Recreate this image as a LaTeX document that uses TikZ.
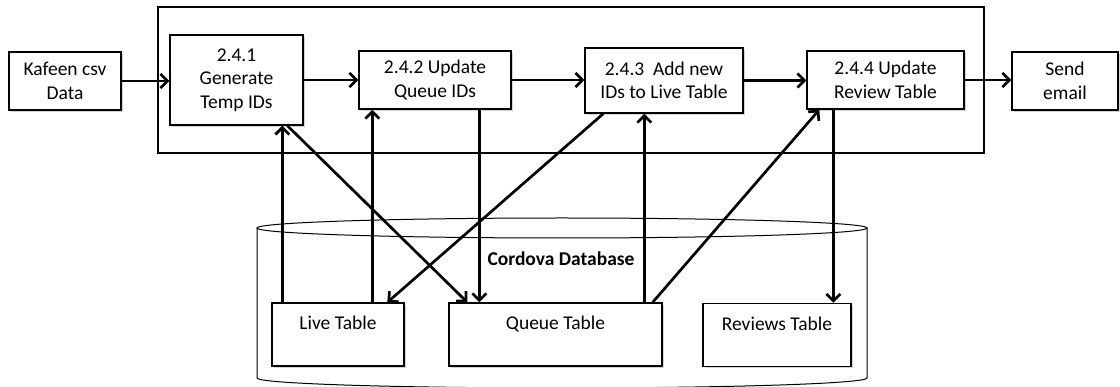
\documentclass[tikz,border=0pt]{standalone}
\usepackage{fontspec}
\setmainfont{Carlito}
\usetikzlibrary{arrows.meta,shadows}
\begin{document}
\begin{tikzpicture}[x=1pt,y=-1pt,
  font=\fontsize{19.5}{23.5}\selectfont,
  box/.style={draw, line width=1.3pt, fill=white, align=center, inner sep=2pt,
    drop shadow={shadow xshift=1.6pt, shadow yshift=-1.6pt, opacity=0.35, fill=gray}},
  tablebox/.style={box, minimum height=63pt},
  arr/.style={line width=2.7pt, -{Straight Barb[length=7pt,width=14pt]}},
  thin line/.style={line width=1pt}
]
\useasboundingbox (0,0) rectangle (1120,387);

% container
\draw[line width=1.2pt] (158,7) rectangle (984,153);

% cylinder (Cordova Database)
\draw[thin line] (562,228) ellipse [x radius=305, y radius=10];
\draw[thin line] (257,228) -- (257,378) arc[start angle=180, end angle=0, x radius=305, y radius=10] -- (867,228);
\node[font=\fontsize{19.5}{23.5}\selectfont\bfseries] (db) at (561,259) {Cordova Database};

% process boxes
\node[box, minimum width=112pt, minimum height=58pt] (kaf) at (65,81) {Kafeen csv\\Data};
\node[box, minimum width=133pt, minimum height=90pt] (p1) at (236.5,80) {2.4.1\\Generate\\Temp IDs};
\node[box, minimum width=152pt, minimum height=58pt] (p2) at (435,80) {2.4.2 Update\\Queue IDs};
\node[box, minimum width=158pt, minimum height=65pt] (p3) at (664,80.5) {2.4.3\ \ Add new\\IDs to Live Table};
\node[box, minimum width=157pt, minimum height=58pt] (p4) at (885.5,80) {2.4.4 Update\\Review Table};
\node[box, minimum width=106pt, minimum height=58pt] (mail) at (1065,81) {Send\\email};

% tables
\node[tablebox, minimum width=132pt] (live) at (338,334.5) {Live Table\\\mbox{}};
\node[tablebox, minimum width=213pt] (queue) at (555.5,334.5) {Queue Table\\\mbox{}};
\node[tablebox, minimum width=148pt] (rev) at (777,335) {Reviews Table\\\mbox{}};

% horizontal flow
\draw[arr] (kaf.east) -- (kaf.east -| p1.west);
\draw[arr] (p1.east) -- (p1.east -| p2.west);
\draw[arr] (p2.east) -- (p2.east -| p3.west);
\draw[arr] (p3.east) -- (p3.east -| p4.west);
\draw[arr] (p4.east) -- (p4.east -| mail.west);

% database links
\draw[arr] ([xshift=11pt]live.north west) -- ([xshift=113pt]p1.south west);
\draw[arr] ([xshift=101pt]live.north west) -- ([xshift=14pt]p2.south west);
\draw[arr] ([xshift=118pt]p1.south west) -- ([xshift=19pt]queue.north west);
\draw[arr] ([xshift=121pt]p2.south west) -- ([xshift=31pt]queue.north west);
\draw[arr] ([xshift=19pt]p3.south west) -- ([xshift=116pt]live.north west);
\draw[arr] ([xshift=196pt]queue.north west) -- ([xshift=60pt]p3.south west);
\draw[arr] ([xshift=-10pt]queue.north east) -- ([xshift=13pt]p4.south west);
\draw[arr] ([xshift=27pt]p4.south west) -- ([xshift=131pt]rev.north west);
\end{tikzpicture}
\end{document}
